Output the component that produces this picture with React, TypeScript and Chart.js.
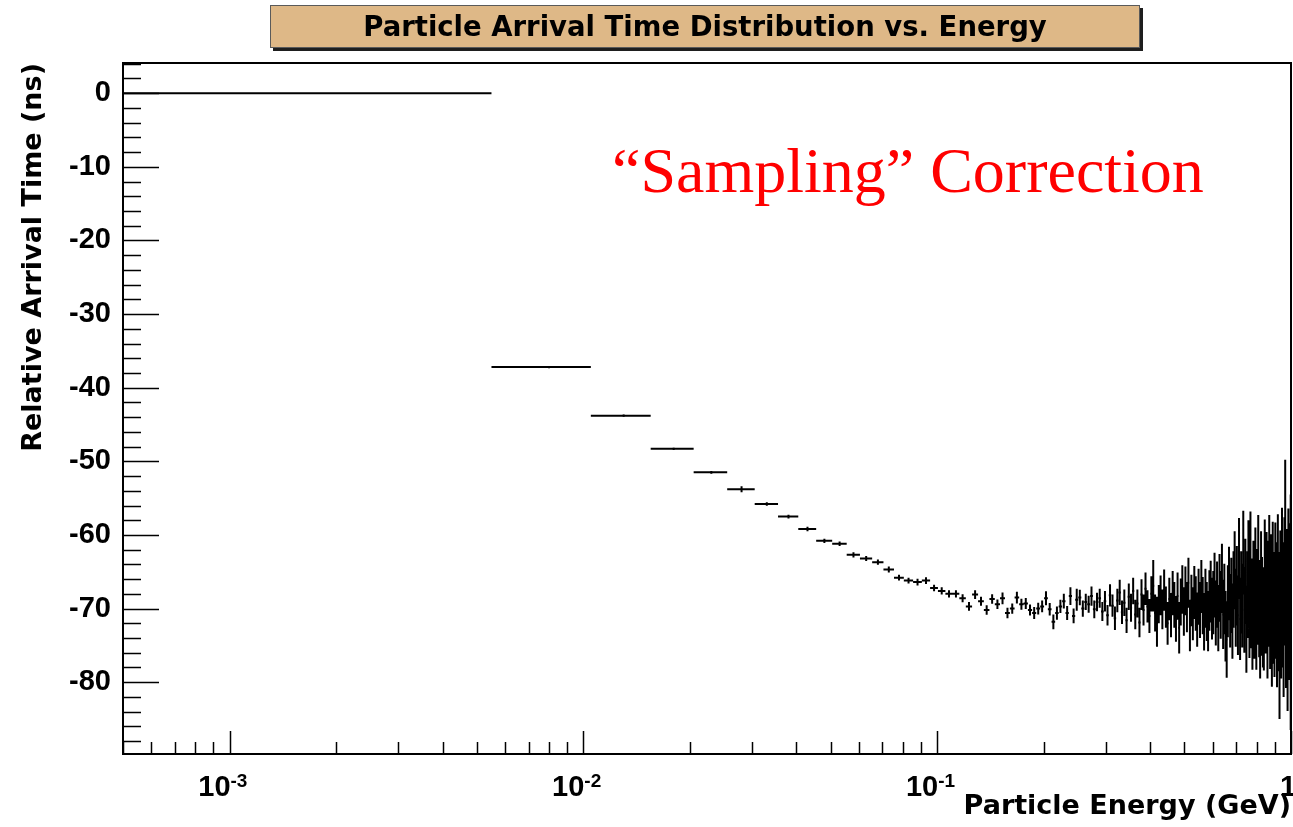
import { useEffect, useRef } from 'react';
import { Chart, registerables } from 'chart.js';

Chart.register(...registerables);

// Profile binning: 200 fixed-width energy bins (GeV)
const BIN_FIRST_EDGE = 0.0005;
const BIN_WIDTH = 0.005;

// Mean relative arrival time per energy bin (ns)
const meanTime = [
  0.0, -37.2, -43.8, -48.3, -51.5, -53.8, -55.8, -57.5, -59.2, -60.8,
  -61.2, -62.7, -63.2, -63.7, -64.7, -65.8, -66.2, -66.4, -66.2, -67.2,
  -67.6, -68.0, -68.0, -68.6, -69.7, -68.1, -69.0, -70.2, -68.7, -69.4,
  -68.6, -70.6, -70.0, -68.5, -69.4, -69.3, -70.2, -70.6, -70.0, -69.7,
  -68.6, -70.1, -71.8, -70.6, -69.7, -69.0, -70.6, -68.3, -71.0, -68.8,
  -68.5, -70.0, -69.1, -69.4, -68.3, -70.1, -69.1, -68.6, -70.4, -69.0,
  -70.9, -68.2, -69.6, -71.3, -68.9, -67.8, -70.5, -69.2, -71.6, -68.4,
  -69.9, -67.6, -70.8, -69.3, -71.9, -68.1, -70.2, -67.3, -69.7, -71.0,
  -68.0, -66.9, -70.6, -71.8, -69.4, -68.2, -70.1, -67.5, -69.8, -72.0,
  -68.7, -70.9, -67.9, -69.5, -71.4, -68.3, -72.6, -69.1, -67.4, -70.4,
  -67.6, -69.8, -66.5, -72.3, -68.9, -70.7, -67.8, -69.3, -71.5, -68.4,
  -70.2, -67.0, -69.6, -71.8, -68.6, -70.4, -71.7, -68.9, -67.7, -70.0,
  -69.2, -66.8, -70.6, -68.1, -71.3, -67.2, -69.5, -65.9, -70.8, -68.7,
  -72.4, -74.2, -69.0, -66.6, -70.3, -68.2, -71.7, -67.4, -64.8, -69.9,
  -66.9, -70.9, -63.2, -71.4, -67.8, -69.6, -62.4, -70.2, -66.3, -72.8,
  -68.1, -64.0, -70.7, -62.9, -69.3, -72.1, -67.0, -70.5, -65.4, -71.9,
  -68.4, -63.8, -70.0, -72.9, -66.2, -69.7, -71.2, -71.5, -64.9, -69.1,
  -66.7, -72.3, -68.0, -64.6, -70.8, -67.3, -73.1, -65.8, -69.9, -71.6,
  -66.1, -68.9, -72.7, -65.2, -70.4, -76.0, -67.6, -71.2, -64.7, -69.5,
  -73.4, -66.3, -59.8, -71.9, -68.2, -74.8, -65.6, -70.3, -67.9, -70.5,
];

// Error on the mean per bin (ns)
const meanError = [
  0, 0.15, 0.15, 0.15, 0.2, 0.4, 0.25, 0.25, 0.3, 0.3,
  0.3, 0.35, 0.35, 0.35, 0.4, 0.4, 0.4, 0.45, 0.45, 0.45,
  0.5, 0.5, 0.5, 0.55, 0.6, 0.6, 0.6, 0.65, 0.65, 0.65,
  0.8, 0.7, 0.7, 0.8, 0.75, 0.75, 0.75, 0.8, 0.8, 0.8,
  0.95, 0.85, 1.0, 0.9, 0.9, 1.0, 0.95, 1.2, 1.0, 1.5,
  1.05, 1.1, 1.1, 1.15, 1.3, 1.2, 1.25, 1.3, 1.3, 1.4,
  1.4, 1.5, 1.5, 1.6, 1.6, 1.7, 1.6, 1.8, 1.7, 1.8,
  1.9, 1.8, 2.0, 1.9, 2.0, 2.1, 2.1, 2.2, 2.2, 2.3,
  2.4, 3.5, 2.5, 3.4, 2.6, 2.7, 2.7, 2.8, 2.8, 2.9,
  2.9, 3.0, 3.0, 3.1, 3.1, 3.2, 3.5, 3.2, 3.3, 3.3,
  3.3, 3.4, 3.4, 3.5, 3.5, 3.6, 3.6, 3.7, 3.7, 3.8,
  3.8, 3.6, 3.9, 3.9, 4.0, 4.0, 4.1, 4.1, 4.2, 4.2,
  4.3, 4.4, 4.4, 4.5, 4.5, 4.6, 4.6, 4.7, 4.7, 4.8,
  4.8, 5.2, 4.9, 5.0, 5.0, 5.1, 5.1, 5.2, 5.3, 5.3,
  5.4, 5.4, 5.5, 5.6, 5.6, 5.7, 5.7, 5.8, 5.8, 5.9,
  5.9, 6.0, 6.0, 6.1, 6.1, 6.2, 6.2, 6.3, 6.4, 6.4,
  6.5, 6.5, 6.6, 6.6, 6.7, 6.7, 6.8, 6.9, 7.0, 7.0,
  7.1, 7.2, 7.2, 7.3, 7.4, 7.4, 7.5, 7.6, 7.6, 7.7,
  7.8, 7.9, 8.0, 8.0, 8.1, 9.0, 8.2, 8.3, 8.4, 8.5,
  8.6, 8.7, 10.0, 8.9, 9.0, 9.1, 9.2, 9.4, 9.5, 16.0,
];

// Axis ranges and labels
const X_MIN = 0.0005;
const X_MAX = 1;
const Y_MIN = -89.75;
const Y_MAX = 4.1;
const yLabelTicks = [-80, -70, -60, -50, -40, -30, -20, -10, 0];
const xDecadeTicks = [0.001, 0.01, 0.1, 1];
const xDecadeExponents = ['-3', '-2', '-1', ''];

const TITLE = 'Particle Arrival Time Distribution vs. Energy';
const X_TITLE = 'Particle Energy (GeV)';
const Y_TITLE = 'Relative Arrival Time (ns)';
const NOTE = '\u201CSampling\u201D Correction';

const TITLE_FONT = '"DejaVu Sans", "Liberation Sans", sans-serif';
const LABEL_FONT = '"Liberation Sans", Arial, sans-serif';

// Horizontal bars span each bin; vertical bars span mean +/- error.
const binWidthSegments = meanTime.flatMap((m, i) => {
  const lo = BIN_FIRST_EDGE + BIN_WIDTH * i;
  const hi = lo + BIN_WIDTH;
  return [
    { x: lo, y: m },
    { x: hi, y: m },
    { x: hi, y: null as number | null },
  ];
});

const errorSegments = meanTime.flatMap((m, i) => {
  const e = meanError[i];
  if (!e) return [];
  const c = BIN_FIRST_EDGE + BIN_WIDTH * (i + 0.5);
  return [
    { x: c, y: m - e },
    { x: c, y: m + e },
    { x: c, y: null as number | null },
  ];
});

// Frame, inward tick marks, exponent labels, title box and note
const rootPadPlugin = {
  id: 'rootPad',
  afterDraw(chart: any) {
    const { ctx, chartArea: a, scales } = chart;
    const xs = scales.x;
    const ys = scales.y;
    ctx.save();
    ctx.strokeStyle = '#000';
    ctx.lineWidth = 1.5;

    // y ticks: minor every 2, major every 10
    ctx.beginPath();
    for (let v = Math.ceil(ys.min / 2) * 2; v <= ys.max; v += 2) {
      const py = Math.round(ys.getPixelForValue(v)) + 0.5;
      const len = v % 10 === 0 ? 36 : 18;
      ctx.moveTo(a.left, py);
      ctx.lineTo(a.left + len, py);
    }
    ctx.stroke();

    // x ticks: 1..9 per decade
    ctx.beginPath();
    for (let p = -4; p <= 0; p++) {
      for (let k = 1; k <= 9; k++) {
        const v = k * Math.pow(10, p);
        if (v < xs.min || v > xs.max) continue;
        const px = Math.round(xs.getPixelForValue(v)) + 0.5;
        const len = k === 1 ? 23 : 12;
        ctx.moveTo(px, a.bottom);
        ctx.lineTo(px, a.bottom - len);
      }
    }
    ctx.stroke();

    // plot frame
    ctx.lineWidth = 2;
    ctx.strokeRect(a.left, a.top, a.right - a.left, a.bottom - a.top);

    // x labels as powers of ten
    ctx.fillStyle = '#000';
    ctx.textBaseline = 'alphabetic';
    xDecadeTicks.forEach((v, i) => {
      const px = xs.getPixelForValue(v);
      const exp = xDecadeExponents[i];
      if (exp) {
        ctx.font = `bold 29px ${LABEL_FONT}`;
        ctx.textAlign = 'right';
        ctx.fillText('10', px + 1, a.bottom + 42);
        ctx.font = `bold 19px ${LABEL_FONT}`;
        ctx.textAlign = 'left';
        ctx.fillText(exp, px + 1, a.bottom + 33);
      } else {
        ctx.font = `bold 29px ${LABEL_FONT}`;
        ctx.textAlign = 'center';
        ctx.fillText('1', px - 3, a.bottom + 42);
      }
    });

    // title box with drop shadow
    ctx.fillStyle = '#1e1e1e';
    ctx.fillRect(273, 8, 870, 43);
    ctx.fillStyle = '#DEB887';
    ctx.fillRect(270, 5, 870, 43);
    ctx.lineWidth = 1;
    ctx.strokeStyle = '#5a5a5a';
    ctx.strokeRect(270.5, 5.5, 869, 42);
    ctx.fillStyle = '#000';
    ctx.font = `bold 27.5px ${TITLE_FONT}`;
    ctx.textAlign = 'center';
    ctx.fillText(TITLE, 705, 36);

    // annotation
    ctx.fillStyle = '#ff0000';
    ctx.font = '64px "Liberation Serif", "Times New Roman", serif';
    ctx.textAlign = 'left';
    ctx.fillText(NOTE, 612, 192);
    ctx.restore();
  },
};

export default function App() {
  const canvasRef = useRef<HTMLCanvasElement>(null);

  useEffect(() => {
    const canvas = canvasRef.current;
    if (!canvas) return;
    const lineStyle = {
      showLine: true,
      pointRadius: 0,
      pointHoverRadius: 0,
      borderColor: '#000',
      borderWidth: 2,
      spanGaps: false,
      tension: 0,
      clip: 0,
    };
    const chart = new Chart(canvas, {
      type: 'scatter',
      data: {
        datasets: [
          { ...lineStyle, label: 'bin width', data: binWidthSegments },
          { ...lineStyle, label: 'error', data: errorSegments },
        ],
      },
      options: {
        responsive: false,
        animation: false,
        devicePixelRatio: 1,
        layout: { padding: { top: 63, right: 2, left: 0, bottom: 0 } },
        plugins: {
          legend: { display: false },
          tooltip: { enabled: false },
          title: { display: false },
        },
        scales: {
          x: {
            type: 'logarithmic',
            min: X_MIN,
            max: X_MAX,
            grid: { display: false, drawTicks: false },
            border: { display: false },
            ticks: { display: false },
            title: {
              display: true,
              text: X_TITLE,
              align: 'end',
              color: '#000',
              font: { family: TITLE_FONT, weight: 'bold', size: 27 },
              padding: { top: 0, bottom: 4 },
            },
            afterFit: (s: any) => {
              s.height = 73;
            },
          },
          y: {
            type: 'linear',
            min: Y_MIN,
            max: Y_MAX,
            grid: { display: false, drawTicks: false },
            border: { display: false },
            afterBuildTicks: (s: any) => {
              s.ticks = yLabelTicks.map((v) => ({ value: v }));
            },
            ticks: {
              color: '#000',
              padding: 12,
              font: { family: LABEL_FONT, weight: 'bold', size: 29 },
              callback: (v: any) => String(v),
            },
            title: {
              display: true,
              text: Y_TITLE,
              align: 'end',
              color: '#000',
              font: { family: TITLE_FONT, weight: 'bold', size: 27 },
              padding: { top: 18, bottom: 0 },
            },
            afterFit: (s: any) => {
              s.width = 123;
            },
          },
        },
      } as any,
      plugins: [rootPadPlugin],
    });
    return () => chart.destroy();
  }, []);

  return (
    <canvas
      ref={canvasRef}
      width={1293}
      height={827}
      style={{ position: 'fixed', left: 0, top: 0, width: 1293, height: 827, background: '#fff' }}
    />
  );
}
